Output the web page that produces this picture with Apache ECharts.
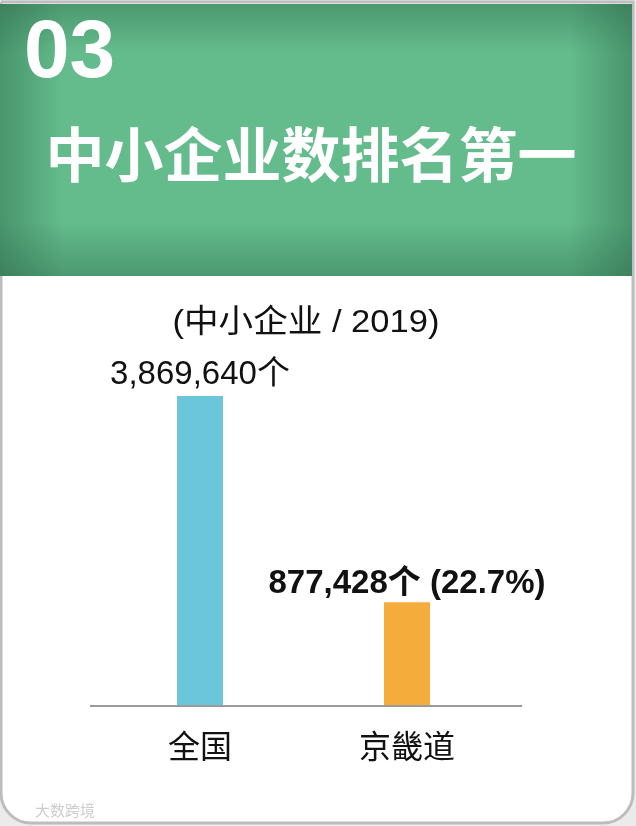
<!DOCTYPE html>
<html>
<head>
<meta charset="utf-8">
<script src="https://cdn.jsdelivr.net/npm/echarts@6/dist/echarts.min.js"></script>
<style>
  html, body { margin: 0; padding: 0; background: #ebebeb; }
  #chart { width: 636px; height: 826px; }
</style>
</head>
<body>
<div id="chart"></div>
<script>
// ---- data ----
const categories = ['全国', '京畿道'];
const smeCounts = [3869640, 877428];
const barColors = ['#6CC6DB', '#F5AC3A'];
const headerNumber = '03';
const headerTitle = '中小企业数排名第一';
const subtitle = '(中小企业 / 2019)';
const unit = '个';
const watermark = '大数跨境';

const fmt = v => v.toLocaleString('en-US');
const share = (smeCounts[1] / smeCounts[0] * 100).toFixed(1);

const FONT = '"Liberation Sans", Arial, "Noto Sans CJK SC", sans-serif';
const CJK = '"Noto Sans CJK SC", "Liberation Sans", sans-serif';

const chart = echarts.init(document.getElementById('chart'), null, { renderer: 'canvas' });

const dataItems = smeCounts.map((v, i) => ({
  value: v,
  itemStyle: { color: barColors[i] },
  label: i === 0
    ? { formatter: p => fmt(p.value) + unit, fontWeight: 'normal', distance: 5 }
    : { formatter: p => fmt(p.value) + unit + ' (' + share + '%)', fontWeight: 'bold', distance: 2 }
}));

chart.setOption({
  backgroundColor: 'transparent',
  animation: false,
  graphic: [
    // card
    { type: 'rect', z: -10, shape: { x: 1, y: 2, width: 632, height: 821, r: [0, 0, 30, 30] },
      style: { fill: '#ffffff', stroke: '#bdbdbd', lineWidth: 3 } },
    // header base
    { type: 'rect', z: -5, shape: { x: 0, y: 4, width: 632, height: 272 },
      style: { fill: '#64BC8C' } },
    // vignette horizontal
    { type: 'rect', z: -4, shape: { x: 0, y: 4, width: 632, height: 272 },
      style: { fill: { type: 'linear', x: 0, y: 0, x2: 1, y2: 0, colorStops: [
        { offset: 0, color: 'rgba(40,100,70,0.45)' },
        { offset: 0.1, color: 'rgba(40,100,70,0.0)' },
        { offset: 0.9, color: 'rgba(40,100,70,0.0)' },
        { offset: 1, color: 'rgba(40,100,70,0.45)' } ] } } },
    // vignette vertical
    { type: 'rect', z: -4, shape: { x: 0, y: 4, width: 632, height: 272 },
      style: { fill: { type: 'linear', x: 0, y: 0, x2: 0, y2: 1, colorStops: [
        { offset: 0, color: 'rgba(40,100,70,0.4)' },
        { offset: 0.18, color: 'rgba(40,100,70,0.0)' },
        { offset: 0.8, color: 'rgba(40,100,70,0.0)' },
        { offset: 1, color: 'rgba(40,100,70,0.4)' } ] } } },
    { type: 'text', z: 5, x: 24, y: 54,
      style: { text: headerNumber, fill: '#ffffff', font: 'bold 82px ' + FONT, verticalAlign: 'middle', align: 'left' } },
    { type: 'text', z: 5, x: 311, y: 155,
      style: { text: headerTitle, fill: '#ffffff', font: 'bold 59px ' + CJK, verticalAlign: 'middle', align: 'center' } },
    { type: 'text', z: 5, x: 306, y: 323, scaleX: 1.08,
      style: { text: subtitle, fill: '#111111', font: '32px ' + FONT, verticalAlign: 'middle', align: 'center' } },
    // baseline
    { type: 'line', z: 5, shape: { x1: 90, y1: 706, x2: 522, y2: 706 },
      style: { stroke: '#9a9a9a', lineWidth: 2 } },
    { type: 'text', z: 5, x: 35, y: 810,
      style: { text: watermark, fill: '#cdcdcd', font: '15px ' + CJK, verticalAlign: 'middle', align: 'left' } }
  ],
  grid: { left: 96.5, right: 125.5, top: 387, bottom: 120, containLabel: false },
  xAxis: {
    type: 'category',
    data: categories,
    axisLine: { show: false },
    axisTick: { show: false },
    axisLabel: { fontSize: 32, color: '#111111', margin: 24, fontFamily: CJK }
  },
  yAxis: {
    type: 'value',
    min: -630000,
    max: 4000000,
    startValue: -630000,
    show: false,
    splitLine: { show: false }
  },
  series: [{
    type: 'bar',
    barWidth: 46,
    data: dataItems,
    label: { show: true, position: 'top', fontSize: 33, color: '#111111', fontFamily: FONT }
  }]
});
</script>
</body>
</html>
